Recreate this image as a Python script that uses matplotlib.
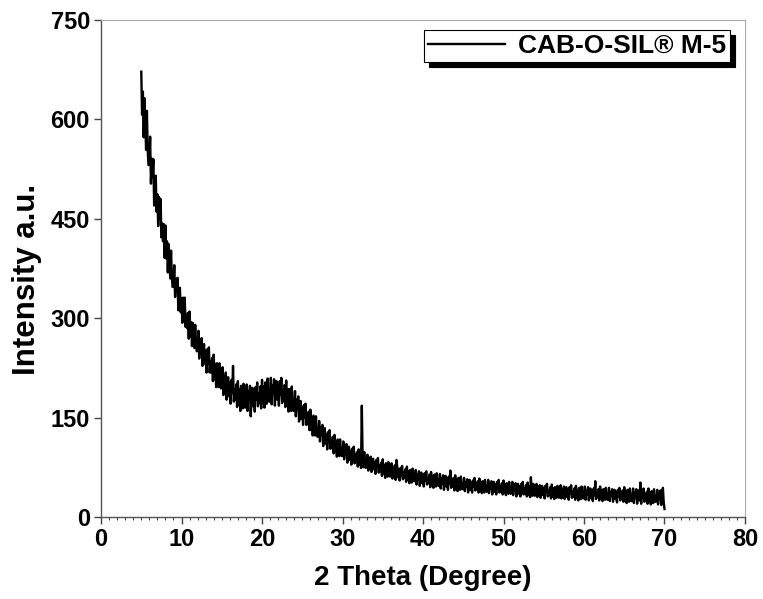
import numpy as np
import matplotlib
matplotlib.use('Agg')
import matplotlib.pyplot as plt
from matplotlib.ticker import MultipleLocator

plt.rcParams['font.family'] = ['Liberation Sans Narrow', 'Liberation Sans', 'DejaVu Sans']
plt.rcParams['font.weight'] = 'bold'

# 2 theta from 5 to 70 deg, step 0.1
two_theta = np.arange(0, 651) * 0.1 + 5.0

# intensity, one row per degree (10 points)
intensity = [
    672, 607, 642, 573, 632, 595, 554, 613, 552, 531,   # 5
    532, 574, 503, 541, 513, 540, 470, 508, 515, 461,   # 6
    487, 439, 483, 450, 480, 422, 443, 416, 442, 391,   # 7
    440, 390, 416, 369, 412, 387, 360, 402, 361, 347,   # 8
    350, 380, 332, 359, 340, 361, 312, 340, 346, 309,   # 9
    330, 293, 331, 305, 331, 287, 306, 285, 308, 269,   # 10
    310, 272, 294, 258, 293, 275, 255, 290, 259, 250,   # 11
    252, 281, 239, 266, 251, 270, 228, 255, 261, 231,   # 12
    251, 218, 253, 232, 256, 218, 235, 218, 240, 205,   # 13
    245, 208, 231, 196, 232, 215, 196, 232, 202, 194,   # 14
    196, 226, 184, 212, 198, 218, 177, 205, 211, 182,   # 15
    203, 171, 207, 187, 228, 174, 192, 177, 200, 166,   # 16
    205, 170, 193, 160, 198, 182, 164, 201, 172, 165,   # 17
    169, 200, 160, 189, 176, 198, 152, 187, 195, 167,   # 18
    189, 159, 196, 177, 203, 167, 187, 172, 197, 164,   # 19
    207, 173, 197, 165, 203, 188, 171, 209, 180, 174,   # 20
    179, 210, 170, 199, 186, 208, 168, 197, 205, 177,   # 21
    199, 168, 205, 185, 210, 172, 191, 176, 199, 166,   # 22
    206, 170, 193, 159, 193, 179, 160, 197, 167, 160,   # 23
    163, 190, 152, 177, 163, 182, 144, 169, 175, 148,   # 24
    165, 139, 169, 150, 171, 139, 155, 140, 159, 131,   # 25
    162, 132, 151, 123, 153, 138, 123, 152, 128, 121,   # 26
    122, 145, 114, 135, 124, 139, 107, 128, 134, 111,   # 27
    125, 102, 128, 113, 131, 103, 116, 104, 121, 96,    # 28
    124, 99, 115, 91, 117, 105, 92, 117, 97, 92,        # 29
    93, 114, 87, 105, 95, 110, 82, 100, 106, 86,        # 30
    100, 79, 103, 89, 106, 81, 94, 83, 98, 76,          # 31
    102, 79, 94, 74, 168, 86, 75, 98, 80, 74,           # 32
    76, 94, 70, 86, 80, 91, 68, 83, 88, 72,             # 33
    83, 65, 86, 74, 89, 67, 78, 69, 82, 62,             # 34
    87, 66, 78, 59, 81, 72, 61, 83, 66, 61,             # 35
    64, 81, 58, 74, 66, 78, 56, 86, 76, 60,             # 36
    72, 55, 74, 63, 77, 57, 67, 59, 72, 53,             # 37
    76, 56, 69, 51, 71, 62, 52, 73, 57, 54,             # 38
    55, 71, 49, 64, 57, 69, 47, 62, 67, 51,             # 39
    63, 46, 66, 55, 69, 49, 59, 51, 64, 45,             # 40
    68, 49, 62, 44, 64, 56, 46, 66, 51, 47,             # 41
    48, 65, 43, 59, 51, 63, 41, 57, 62, 46,             # 42
    58, 41, 61, 50, 70, 44, 54, 46, 59, 40,             # 43
    63, 44, 57, 39, 59, 51, 41, 61, 46, 42,             # 44
    43, 59, 39, 53, 46, 57, 37, 51, 56, 41,             # 45
    52, 37, 55, 46, 59, 40, 49, 42, 54, 37,             # 46
    58, 40, 52, 36, 54, 46, 37, 56, 42, 38,             # 47
    40, 56, 36, 50, 43, 54, 34, 48, 53, 38,             # 48
    49, 34, 53, 43, 56, 37, 46, 39, 51, 34,             # 49
    55, 37, 49, 33, 51, 43, 35, 53, 39, 35,             # 50
    37, 53, 33, 47, 40, 51, 31, 45, 50, 35,             # 51
    46, 31, 50, 40, 53, 34, 43, 36, 48, 31,             # 52
    52, 34, 46, 30, 60, 40, 32, 50, 36, 32,             # 53
    35, 50, 30, 44, 38, 48, 29, 42, 47, 33,             # 54
    43, 28, 47, 37, 50, 31, 40, 33, 45, 28,             # 55
    49, 31, 43, 27, 45, 37, 29, 47, 33, 29,             # 56
    32, 48, 28, 42, 35, 46, 27, 40, 45, 30,             # 57
    41, 26, 45, 35, 48, 29, 38, 31, 43, 26,             # 58
    47, 29, 41, 25, 44, 36, 27, 46, 32, 28,             # 59
    30, 46, 26, 40, 34, 45, 25, 39, 43, 28,             # 60
    39, 24, 43, 33, 54, 27, 37, 30, 42, 25,             # 61
    46, 28, 40, 24, 42, 35, 26, 44, 30, 26,             # 62
    28, 44, 24, 38, 32, 42, 23, 37, 41, 27,             # 63
    37, 22, 41, 31, 44, 25, 35, 27, 40, 23,             # 64
    45, 26, 39, 21, 41, 32, 23, 43, 28, 24,             # 65
    26, 43, 21, 37, 30, 42, 20, 36, 40, 25,             # 66
    52, 20, 40, 29, 43, 23, 34, 25, 38, 20,             # 67
    43, 24, 37, 19, 39, 31, 21, 42, 26, 23,             # 68
    24, 41, 19, 35, 28, 40, 18, 34, 44, 23,             # 69
    12,                                                 # 70
]

fig = plt.figure(figsize=(7.63, 5.99), dpi=100)
ax = fig.add_axes([0.1324, 0.1369, 0.844, 0.8297])

ax.plot(two_theta, intensity, '-', color='black', lw=1.7, label='CAB-O-SIL® M-5')

ax.set_xlim(0, 80)
ax.set_ylim(0, 750)
ax.xaxis.set_major_locator(MultipleLocator(10))
ax.xaxis.set_minor_locator(MultipleLocator(1))
ax.yaxis.set_major_locator(MultipleLocator(150))

ax.tick_params(axis='both', which='major', direction='out', length=5, width=1,
               color='#444444', labelsize=17, pad=3)
ax.tick_params(axis='x', which='minor', direction='out', length=2.5, width=0.8,
               color='#444444')

for s in ['left', 'bottom']:
    ax.spines[s].set_color('#555555')
    ax.spines[s].set_linewidth(1.0)
for s in ['top', 'right']:
    ax.spines[s].set_color('#aaaaaa')
    ax.spines[s].set_linewidth(0.8)

ax.set_xlabel('2 Theta (Degree)', fontsize=20, fontweight='bold', labelpad=10)
ax.set_ylabel('Intensity a.u.', fontsize=22.5, fontweight='bold')
ax.yaxis.set_label_coords(-0.091, 0.477)

leg = ax.legend(loc='upper right', bbox_to_anchor=(0.977, 0.980), fontsize=19,
                frameon=True, fancybox=False,
                shadow={'color': 'black', 'alpha': 1, 'ox': 3.5, 'oy': -3.5},
                handlelength=2.9, borderaxespad=0, borderpad=0.15,
                handletextpad=0.5)
leg.get_frame().set_edgecolor('black')
leg.get_frame().set_linewidth(0.8)
for t in leg.get_texts():
    t.set_fontweight('bold')

plt.savefig('out.png', dpi=100)
